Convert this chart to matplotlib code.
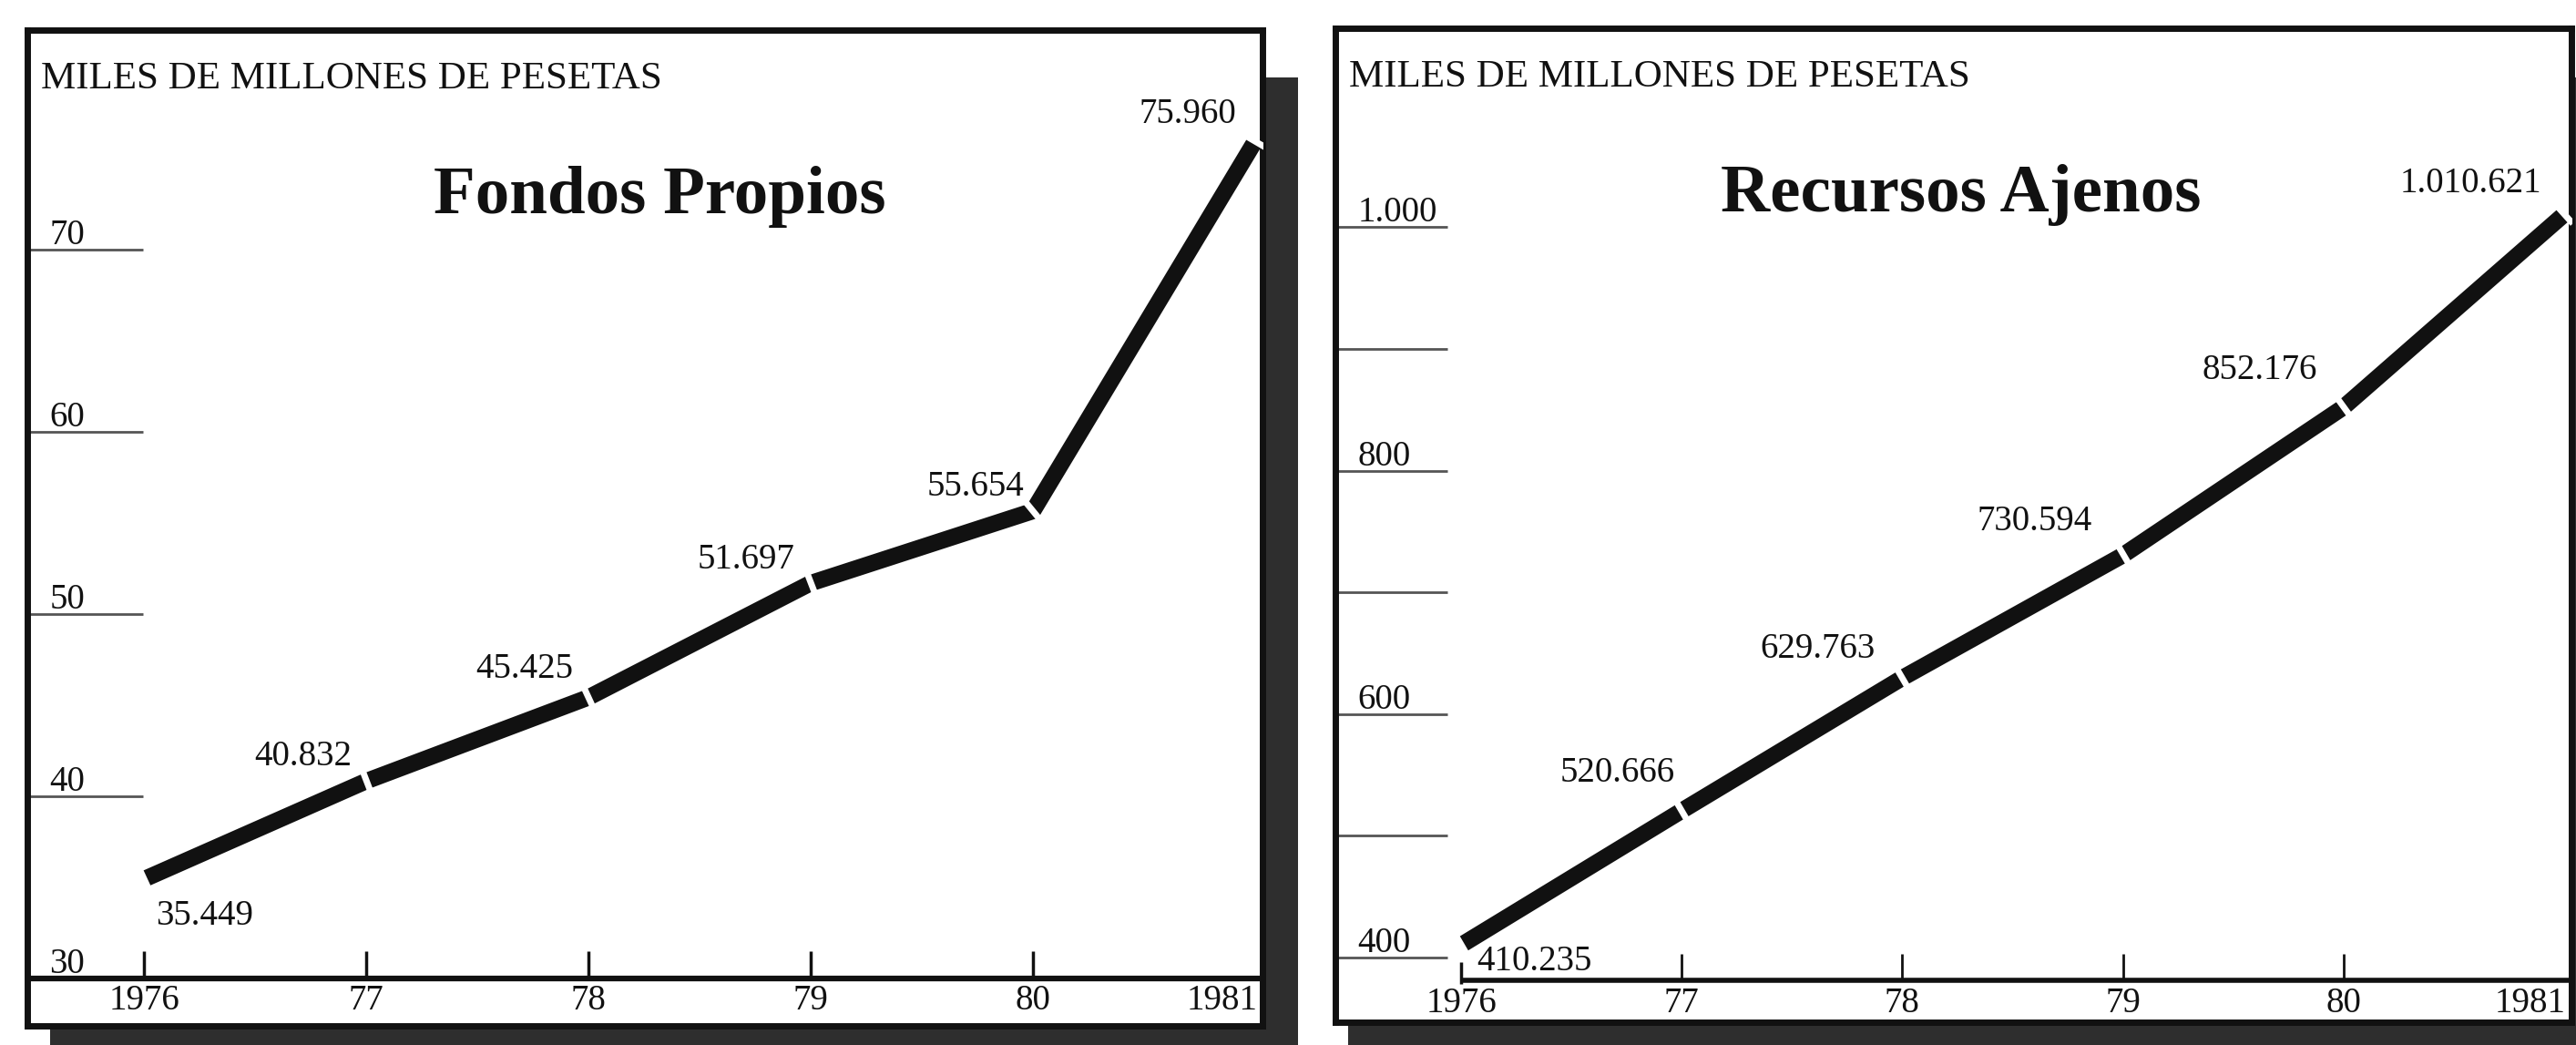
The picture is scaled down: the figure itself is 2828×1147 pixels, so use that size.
import numpy as np
import matplotlib.pyplot as plt
from matplotlib.markers import MarkerStyle
from matplotlib.patches import Rectangle
from matplotlib.transforms import Affine2D

# data (miles de millones de pesetas)
years = [1976, 1977, 1978, 1979, 1980, 1981]
year_labels = ['1976', '77', '78', '79', '80', '1981']
fondos_propios = [35.449, 40.832, 45.425, 51.697, 55.654, 75.960]
recursos_ajenos = [410.235, 520.666, 629.763, 730.594, 852.176, 1010.621]
fp_ticks = [30, 40, 50, 60, 70]
ra_ticks = [400, 500, 600, 700, 800, 900, 1000]
ra_tick_labels = [400, 600, 800, 1000]

# label offsets in pixels (dx, dy); first label sits right of / below its point
fp_offsets = [(13, -40), (-16, 27), (-17, 31), (-18, 26), (-10, 26), (-21, 29)]
ra_offsets = [(17, -18), (-7, 41), (-30, 32), (-34, 37), (-29, 40), (-25, 34)]

W, H = 2828, 1147
plt.rcParams['font.family'] = ['Liberation Serif', 'DejaVu Serif']
fig = plt.figure(figsize=(W / 100, H / 100), dpi=100)
fig.patch.set_facecolor('white')

INK = '#111111'
SHADOW = '#2e2e2e'


def px_rect(x0, y0, x1, y1):
    return [x0 / W, 1 - y1 / H, (x1 - x0) / W, (y1 - y0) / H]


def es_num(v):
    return f'{v:,}'.replace(',', '.')


# drop shadows behind the two boxes
for x0, x1 in [(55, 1425), (1480, W)]:
    r = px_rect(x0, 85, x1, H)
    fig.add_artist(Rectangle((r[0], r[1]), r[2], r[3], transform=fig.transFigure,
                             facecolor=SHADOW, edgecolor='none', zorder=-1))


def draw_panel(rect, xlim, ylim, values, offsets, title, title_x):
    ax = fig.add_axes(rect)
    ax.set_xlim(xlim)
    ax.set_ylim(ylim)
    ax.set_xticks([])
    ax.set_yticks([])
    ax.set_facecolor('white')
    for s in ax.spines.values():
        s.set_linewidth(5)
        s.set_color(INK)

    ax.text(0.011, 0.941, 'MILES DE MILLONES DE PESETAS', transform=ax.transAxes,
            ha='left', va='baseline', fontsize=31, color=INK)
    ax.text(title_x, 0.816, title, transform=ax.transAxes, ha='center',
            va='baseline', fontsize=54, fontweight='bold', color=INK)

    # main line
    ax.plot(years, values, color=INK, lw=13, solid_capstyle='butt',
            solid_joinstyle='miter', zorder=3)

    # white cuts across the line at each data point
    pts = ax.transData.transform(np.column_stack([years, values]))
    for i in range(len(years)):
        dirs = []
        if i > 0:
            d = pts[i] - pts[i - 1]
            dirs.append(d / np.hypot(*d))
        if i < len(years) - 1:
            d = pts[i + 1] - pts[i]
            dirs.append(d / np.hypot(*d))
        d = np.mean(dirs, axis=0)
        theta = np.degrees(np.arctan2(d[1], d[0]))
        m = MarkerStyle('|', transform=Affine2D().rotate_deg(theta))
        ax.plot(years[i], values[i], marker=m, ms=20, mew=5, mec='white',
                ls='none', zorder=4)

    # value labels
    for i, (x, v) in enumerate(zip(years, values)):
        dx, dy = offsets[i]
        ax.annotate(es_num(round(v * 1000)), xy=(x, v), xytext=(dx, dy),
                    textcoords='offset pixels', ha='left' if i == 0 else 'right',
                    va='center', fontsize=28, color=INK, zorder=5)
    return ax


# ---- Fondos Propios ----
ax1 = draw_panel(px_rect(30, 33, 1386, 1126), (1975.475, 1981.033), (27.4, 82.05),
                 fondos_propios, fp_offsets, 'Fondos Propios', 0.512)
ax1.axhline(fp_ticks[0], color=INK, lw=4.5, zorder=2)
ax1.vlines(years[:-1], fp_ticks[0], fp_ticks[0] + 1.5, color=INK, lw=2.5)
ax1.hlines(fp_ticks[1:], 0, 0.094, transform=ax1.get_yaxis_transform(),
           color='#555555', lw=2)
for t in fp_ticks:
    ax1.annotate(str(t), xy=(0.018, t), xycoords=ax1.get_yaxis_transform(),
                 xytext=(0, 6), textcoords='offset pixels', ha='left',
                 va='baseline', fontsize=28, color=INK)
for i, (x, lab) in enumerate(zip(years, year_labels)):
    last = i == len(years) - 1
    ax1.annotate(lab, xy=(x, fp_ticks[0]), xytext=(3 if last else 0, -24),
                 textcoords='offset pixels', ha='right' if last else 'center',
                 va='center', fontsize=28, color=INK)

# ---- Recursos Ajenos ----
ra_axis = 381
ax2 = draw_panel(px_rect(1466, 31, 2823, 1122), (1975.430, 1981.033), (346.9, 1163.5),
                 recursos_ajenos, ra_offsets, 'Recursos Ajenos', 0.506)
ax2.hlines(ra_axis, years[0], 1981.033, color=INK, lw=4, zorder=2)
ax2.vlines(years[0], ra_axis - 3, ra_axis + 15, color=INK, lw=2.5)
ax2.vlines(years[1:-1], ra_axis, ra_axis + 22, color=INK, lw=2)
ax2.hlines(ra_ticks, 0, 0.091, transform=ax2.get_yaxis_transform(),
           color='#555555', lw=2)
for t in ra_tick_labels:
    ax2.annotate(es_num(t), xy=(0.018, t), xycoords=ax2.get_yaxis_transform(),
                 xytext=(0, 6), textcoords='offset pixels', ha='left',
                 va='baseline', fontsize=28, color=INK)
for i, (x, lab) in enumerate(zip(years, year_labels)):
    last = i == len(years) - 1
    ax2.annotate(lab, xy=(x, ra_axis), xytext=(2 if last else 0, -25),
                 textcoords='offset pixels', ha='right' if last else 'center',
                 va='center', fontsize=28, color=INK)

fig.savefig('out.png', dpi=100, facecolor=fig.get_facecolor())
